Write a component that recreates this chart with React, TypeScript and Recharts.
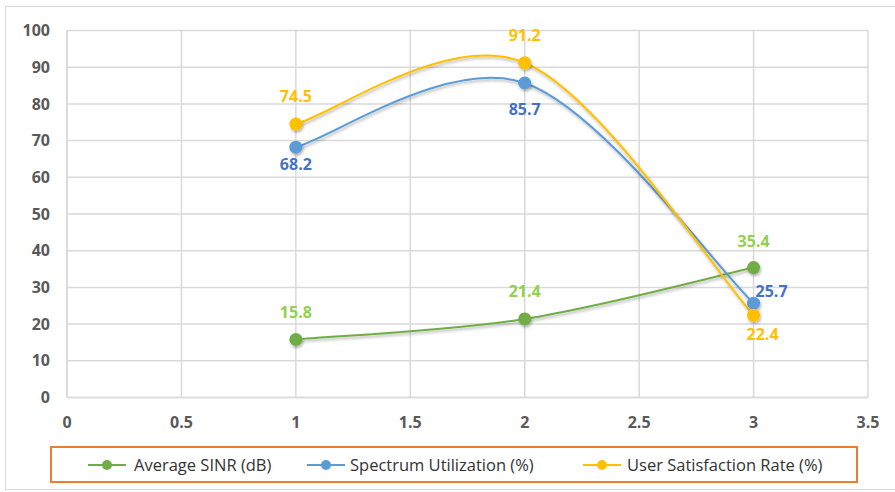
import React from 'react';
import { LineChart, Line, XAxis, YAxis, CartesianGrid } from 'recharts';

// values
const xValues = [1, 2, 3];
const sinrValues = [15.8, 21.4, 35.4];
const spectrumValues = [68.2, 85.7, 25.7];
const satisfactionValues = [74.5, 91.2, 22.4];
const xTicks = [0, 0.5, 1, 1.5, 2, 2.5, 3, 3.5];
const yTicks = [0, 10, 20, 30, 40, 50, 60, 70, 80, 90, 100];
const seriesNames = ['Average SINR (dB)', 'Spectrum Utilization (%)', 'User Satisfaction Rate (%)'];

const data = xValues.map((x, i) => ({
  x,
  sinr: sinrValues[i],
  spectrum: spectrumValues[i],
  satisfaction: satisfactionValues[i],
}));

const GREEN = '#70AD47';
const BLUE = '#5B9BD5';
const YELLOW = '#FFC000';
const FONT = '"Open Sans", "Liberation Sans", sans-serif';

// spreadsheet-style smoothed line (cardinal bezier, 1/6 tangents)
const smoothCurve: any = (context: any) => {
  let pts: [number, number][] = [];
  return {
    areaStart() {},
    areaEnd() {},
    lineStart() {
      pts = [];
    },
    point(x: number, y: number) {
      pts.push([+x, +y]);
    },
    lineEnd() {
      if (!pts.length) return;
      context.moveTo(pts[0][0], pts[0][1]);
      for (let i = 0; i < pts.length - 1; i++) {
        const p0 = pts[i - 1] || pts[i];
        const p1 = pts[i];
        const p2 = pts[i + 1];
        const p3 = pts[i + 2] || p2;
        context.bezierCurveTo(
          p1[0] + (p2[0] - p0[0]) / 6,
          p1[1] + (p2[1] - p0[1]) / 6,
          p2[0] - (p3[0] - p1[0]) / 6,
          p2[1] - (p3[1] - p1[1]) / 6,
          p2[0],
          p2[1]
        );
      }
    },
  };
};

// label placement per point (dx, dy from marker centre)
const makeLabel = (color: string, offsets: [number, number][]) => (props: any) => {
  const { x, y, value, index } = props;
  const [dx, dy] = offsets[index] || [0, -28];
  return (
    <text
      x={x + dx}
      y={y + dy}
      textAnchor="middle"
      dominantBaseline="central"
      fill={color}
      fontSize={16}
      fontWeight={700}
      fontFamily={FONT}
    >
      {value}
    </text>
  );
};

const tickStyle = { fill: '#595959', fontSize: 16, fontWeight: 700, fontFamily: FONT };

const legendItems = [
  { name: seriesNames[0], color: GREEN, lineX: 88, textX: 134 },
  { name: seriesNames[1], color: BLUE, lineX: 307, textX: 350 },
  { name: seriesNames[2], color: YELLOW, lineX: 583, textX: 627 },
];

export default function App() {
  return (
    <div style={{ position: 'absolute', left: 0, top: 0, width: 895, height: 492, background: '#fff', overflow: 'hidden' }}>
      <style>{`.recharts-line-curve, .recharts-line-dots { filter: url(#softShadow); }`}</style>
      <div
        style={{
          position: 'absolute',
          left: 5,
          top: 6,
          width: 910,
          height: 484,
          border: '1.5px solid #d9d9d9',
          boxSizing: 'border-box',
        }}
      />
      <div style={{ position: 'absolute', left: 0, top: 0 }}>
        <LineChart width={895} height={492} data={data} margin={{ top: 30.5, right: 27, left: 0, bottom: 64.5 }}>
          <defs>
            <filter id="softShadow" x="-20%" y="-20%" width="140%" height="140%">
              <feDropShadow dx="1" dy="2" stdDeviation="1.5" floodColor="#000" floodOpacity="0.3" />
            </filter>
          </defs>
          <CartesianGrid stroke="#d9d9d9" strokeWidth={1.5} />
          <XAxis
            type="number"
            dataKey="x"
            domain={[0, 3.5]}
            ticks={xTicks}
            height={30}
            axisLine={{ stroke: '#d9d9d9', strokeWidth: 1.5 }}
            tickLine={false}
            tickSize={0}
            tickMargin={19}
            tick={tickStyle}
            interval={0}
          />
          <YAxis
            type="number"
            domain={[0, 100]}
            ticks={yTicks}
            width={67}
            axisLine={{ stroke: '#d9d9d9', strokeWidth: 1.5 }}
            tickLine={false}
            tickSize={0}
            tickMargin={17}
            tick={tickStyle}
            interval={0}
          />
          <Line
            type={smoothCurve}
            dataKey="sinr"
            name={seriesNames[0]}
            stroke={GREEN}
            strokeWidth={2}
            dot={{ r: 6.5, fill: GREEN, stroke: 'none' }}
            label={makeLabel('#92D050', [[0, -28], [0, -28], [0, -27]])}
            isAnimationActive={false}
          />
          <Line
            type={smoothCurve}
            dataKey="spectrum"
            name={seriesNames[1]}
            stroke={BLUE}
            strokeWidth={2}
            dot={{ r: 6.5, fill: BLUE, stroke: 'none' }}
            label={makeLabel('#4472C4', [[0, 17], [0, 26], [18, -12]])}
            isAnimationActive={false}
          />
          <Line
            type={smoothCurve}
            dataKey="satisfaction"
            name={seriesNames[2]}
            stroke={YELLOW}
            strokeWidth={2}
            dot={{ r: 6.5, fill: YELLOW, stroke: 'none' }}
            label={makeLabel(YELLOW, [[0, -28], [0, -28], [9, 19]])}
            isAnimationActive={false}
          />
        </LineChart>
      </div>
      {/* legend box */}
      <div
        style={{
          position: 'absolute',
          left: 50,
          top: 446,
          width: 808,
          height: 37,
          border: '2px solid #ED7D31',
          boxSizing: 'border-box',
        }}
      />
      {legendItems.map((it) => (
        <React.Fragment key={it.name}>
          <svg style={{ position: 'absolute', left: it.lineX, top: 458 }} width={38} height={14}>
            <line x1={0} y1={7} x2={38} y2={7} stroke={it.color} strokeWidth={2} />
            <circle cx={19} cy={7} r={5} fill={it.color} />
          </svg>
          <div
            style={{
              position: 'absolute',
              left: it.textX,
              top: 453,
              height: 24,
              lineHeight: '24px',
              fontSize: 16.5,
              fontFamily: FONT,
              color: '#333333',
              whiteSpace: 'nowrap',
            }}
          >
            {it.name}
          </div>
        </React.Fragment>
      ))}
    </div>
  );
}
